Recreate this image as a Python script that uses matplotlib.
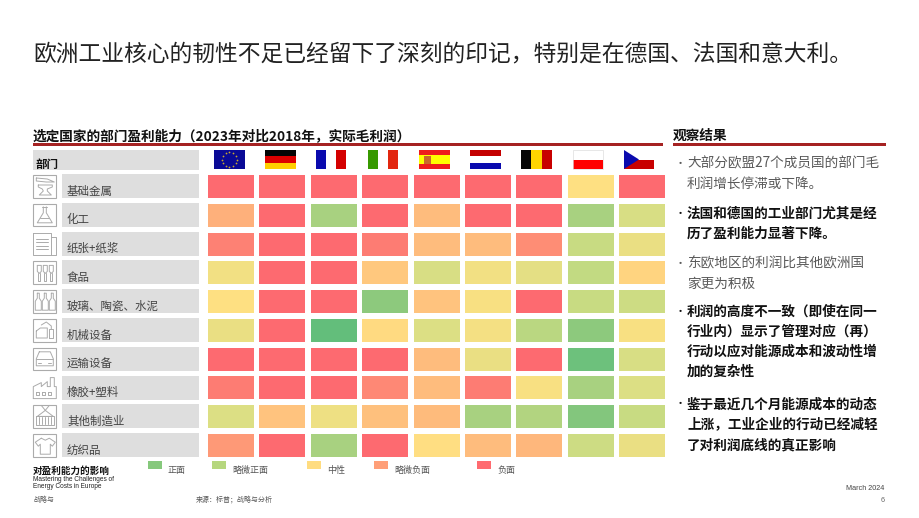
import numpy as np
import matplotlib
matplotlib.use("Agg")
import matplotlib.pyplot as plt
from matplotlib.colors import LinearSegmentedColormap, Normalize
from matplotlib.patches import Rectangle, Polygon

plt.rcParams['font.family'] = ['Noto Sans CJK SC', 'DejaVu Sans']

# Full-width punctuation used in the Chinese copy
COMMA, LP, RP, COLON, SEMI = "\uFF0C", "\uFF08", "\uFF09", "\uFF1A", "\uFF1B"

# Heatmap content
countries = ["EU", "DE", "FR", "IT", "ES", "NL", "BE", "PL", "CZ"]
sectors = ["基础金属", "化工", "纸张+纸浆", "食品", "玻璃、陶瓷、水泥",
           "机械设备", "运输设备", "橡胶+塑料", "其他制造业", "纺织品"]
basic_metals = [-1, -1, -1, -1, -1, -1, -1, 0, -1]
chemicals = [-.4, -1, .65, -1, -.3, -1, -1, .65, .3]
paper_pulp = [-.8, -1, -1, -.85, -.3, -.3, -.7, .45, .15]
food = [.1, -1, -1, -.2, .3, .1, .2, .5, -.1]
glass_ceramics = [0, -1, -1, .8, -.25, .05, -1, .45, .4]
machinery = [.15, -1, 1, -.05, .25, .08, .55, .8, .05]
transport = [-1, -1, -1, -1, -.3, .15, -1, .95, .3]
rubber_plastics = [-.85, -1, -1, -.75, -.3, -.85, .05, .65, .25]
other_mfg = [.25, -.25, .12, -.27, -.32, .65, .6, .85, .45]
textiles = [-.6, -1, .65, -1, -.02, -.3, -.35, .4, .15]
scores = np.array([basic_metals, chemicals, paper_pulp, food, glass_ceramics,
                   machinery, transport, rubber_plastics, other_mfg, textiles])

legend_labels = ["正面", "略微正面", "中性", "略微负面", "负面"]
legend_colors = ["#86C87C", "#B6D77E", "#FFDC80", "#FF9F78", "#FF6B70"]

observations = [
    (["大部分欧盟27个成员国的部门毛", "利润增长停滞或下降。"], False),
    (["法国和德国的工业部门尤其是经", "历了盈利能力显著下降。"], True),
    (["东欧地区的利润比其他欧洲国", "家更为积极"], False),
    (["利润的高度不一致" + LP + "即使在同一", "行业内" + RP + "显示了管理对应" + LP + "再" + RP,
      "行动以应对能源成本和波动性增", "加的复杂性"], True),
    (["鉴于最近几个月能源成本的动态", "上涨" + COMMA + "工业企业的行动已经减轻", "了对利润底线的真正影响"], True),
]
observation_rows = [[163.5, 183.5], [213.5, 233.5], [263.5, 283.5],
                    [311.5, 331.5, 351.5, 371.5], [404.5, 424.5, 445]]

W, H = 920, 518
fig = plt.figure(figsize=(W / 100, H / 100), dpi=100, facecolor="white")

# Page layer in pixel units for text, rules, bands, flags and icons
page = fig.add_axes([0, 0, 1, 1])
page.set_xlim(0, W)
page.set_ylim(H, 0)
page.axis("off")

RED_RULE = "#A52222"
GREY_BAND = "#DEDEDE"
ICON = "#ABABAB"

page.text(33.5, 53.5, "欧洲工业核心的韧性不足已经留下了深刻的印记" + COMMA + "特别是在德国、法国和意大利。",
          fontsize=16.4, color="#222222", va="center", ha="left")
page.text(33, 136, "选定国家的部门盈利能力" + LP + "2023年对比2018年" + COMMA + "实际毛利润" + RP,
          fontsize=9.85, fontweight="bold", color="#111111", va="center")
page.text(673, 136, "观察结果", fontsize=9.85, fontweight="bold", color="#111111", va="center")
page.add_patch(Rectangle((33, 143), 630.5, 2.6, fc=RED_RULE, ec="none"))
page.add_patch(Rectangle((672.7, 143), 213.3, 2.6, fc=RED_RULE, ec="none"))

page.add_patch(Rectangle((33, 149.5), 166, 20, fc=GREY_BAND, ec="none"))
page.text(36, 164, "部门", fontsize=8.3, fontweight="bold", color="#111111", va="center")

ROW_STEP = 28.8


def poly(x0, y0, pts, closed=False):
    """Draw a thin icon outline from points given in a 23 px icon box."""
    xy = [(x0 + a, y0 + b) for a, b in pts]
    if closed:
        xy.append(xy[0])
    xs, ys = zip(*xy)
    page.plot(xs, ys, color=ICON, lw=0.7, solid_capstyle="round")


def icon_anvil(x, y):
    poly(x, y, [(3, 3), (14, 4), (21, 7), (13, 7), (3, 6)], True)
    poly(x, y, [(5, 10), (19, 10), (19, 12), (14, 14), (14, 16), (18, 20), (6, 20), (10, 16), (9, 14), (5, 12)], True)


def icon_flask(x, y):
    poly(x, y, [(9, 3), (14, 3)])
    poly(x, y, [(10, 3), (10, 9), (4, 19), (19, 19), (13, 9), (13, 3)])
    poly(x, y, [(7, 14), (16, 14)])


def icon_paper(x, y):
    poly(x, y, [(0, 0), (18, 0), (18, 22), (0, 22)], True)
    poly(x, y, [(18, 4), (23, 4), (23, 22), (18, 22)])
    for k in (6, 9.5, 13, 16.5):
        poly(x, y, [(3, k), (15, k)])


def icon_cutlery(x, y):
    for cx in (6, 12, 18):
        poly(x, y, [(cx - 2, 4), (cx - 2, 10), (cx, 12), (cx + 2, 10), (cx + 2, 4)], True)
        poly(x, y, [(cx - 1, 12), (cx - 1, 20), (cx + 1, 20), (cx + 1, 12)])


def icon_bottles(x, y):
    for cx in (5, 12, 19):
        poly(x, y, [(cx - 1, 3), (cx + 1, 3), (cx + 1, 8), (cx + 3, 11), (cx + 3, 20),
                    (cx - 3, 20), (cx - 3, 11), (cx - 1, 8)], True)


def icon_machine(x, y):
    poly(x, y, [(3, 12), (7, 9), (14, 9), (14, 19), (3, 19)], True)
    poly(x, y, [(16, 19), (16, 10), (20, 10), (20, 19)], True)
    poly(x, y, [(8, 6), (13, 3), (18, 7), (18, 10)])


def icon_car(x, y):
    poly(x, y, [(6, 4), (17, 4), (20, 11), (20, 18), (3, 18), (3, 11)], True)
    poly(x, y, [(3, 11), (20, 11)])
    poly(x, y, [(5, 15), (8, 15)])
    poly(x, y, [(15, 15), (18, 15)])


def icon_factory(x, y):
    poly(x, y, [(0, 22), (0, 10), (8, 6), (8, 10), (14, 5), (14, 10), (17, 10), (17, 1),
                (21, 1), (21, 10), (23, 10), (23, 22)], True)
    for cx in (3, 9, 15):
        poly(x, y, [(cx, 15), (cx + 3, 15), (cx + 3, 18), (cx, 18)], True)


def icon_container(x, y):
    poly(x, y, [(8, 0), (12, 5), (16, 0)])
    poly(x, y, [(12, 5), (4, 11), (20, 11)], True)
    poly(x, y, [(3, 11), (21, 11), (21, 20), (3, 20)], True)
    for cx in (6, 9, 12, 15, 18):
        poly(x, y, [(cx, 12), (cx, 19)])


def icon_shirt(x, y):
    poly(x, y, [(8, 4), (12, 6), (16, 4), (22, 8), (19, 12), (17, 10), (17, 20),
                (7, 20), (7, 10), (5, 12), (2, 8)], True)


icons = [icon_anvil, icon_flask, icon_paper, icon_cutlery, icon_bottles,
         icon_machine, icon_car, icon_factory, icon_container, icon_shirt]
for i, (name, icon) in enumerate(zip(sectors, icons)):
    y0 = 174 + i * ROW_STEP
    page.add_patch(Rectangle((62, y0), 137, 24, fc=GREY_BAND, ec="none"))
    if i != 2 and i != 7:
        page.add_patch(Rectangle((33.3, y0 + 1), 22.5, 22.5, fc="white", ec=ICON, lw=0.8))
    icon(33.3, y0 + 1)
    page.text(67, y0 + 17, name, fontsize=8.25, color="#444444", va="center")


def flag_stripes(x, colors, vertical=True, w=30.5, y=150, h=19):
    n = len(colors)
    for k, c in enumerate(colors):
        if vertical:
            page.add_patch(Rectangle((x + k * w / n, y), w / n, h, fc=c, ec="none"))
        else:
            page.add_patch(Rectangle((x, y + k * h / n), w, h / n, fc=c, ec="none"))


flag_x = dict(zip(countries, [214.3, 265.3, 316, 367.7, 419.3, 470.2, 521.3, 573, 624]))
flag_stripes(flag_x["EU"], ["#0A0A96"])
angles = np.linspace(0, 2 * np.pi, 12, endpoint=False)
page.scatter(flag_x["EU"] + 15.2 + 7.6 * np.cos(angles), 159.5 + 7.6 * np.sin(angles),
             s=1.6, c="#C9A82C", linewidths=0, zorder=3)
flag_stripes(flag_x["DE"], ["#050505", "#DD0000", "#FFCE00"], vertical=False)
flag_stripes(flag_x["FR"], ["#0A0AAE", "#FFFFFF", "#D40000"])
flag_stripes(flag_x["IT"], ["#379900", "#FFFFFF", "#E2260F"])
flag_stripes(flag_x["ES"], ["#EE1C1C", "#FFFF00", "#FFFF00", "#EE1C1C"], vertical=False)
page.add_patch(Rectangle((flag_x["ES"] + 4.5, 155.5), 7, 8, fc="#C8682C", ec="none"))
flag_stripes(flag_x["NL"], ["#C40000", "#FFFFFF", "#0A0AAE"], vertical=False)
flag_stripes(flag_x["BE"], ["#050505", "#FFD500", "#C80000"])
flag_stripes(flag_x["PL"], ["#FFFFFF", "#FF0000"], vertical=False)
page.add_patch(Rectangle((flag_x["PL"], 150), 30.5, 19, fc="none", ec="#DDDDDD", lw=0.5))
flag_stripes(flag_x["CZ"], ["#FFFFFF", "#C80000"], vertical=False)
page.add_patch(Polygon([(flag_x["CZ"], 150), (flag_x["CZ"] + 15, 159.5), (flag_x["CZ"], 169)],
                       fc="#0A0AAE", ec="none"))

# Heatmap layer, addressed by column and row index
cell_w, cell_h = 46 / 51.4, 23 / ROW_STEP
heat = fig.add_axes([208 / W, 1 - 457 / H, (665.3 - 208) / W, (457 - 175) / H])
heat.set_xlim(0, len(countries) - 1 + cell_w)
heat.set_ylim(len(sectors) - 1 + cell_h, 0)
heat.axis("off")
cmap = LinearSegmentedColormap.from_list(
    "margin",
    [(0, "#FD6A70"), (0.5, "#FFE082"), (0.625, "#DDDF84"),
     (0.75, "#C3DA82"), (0.875, "#98CC7E"), (1, "#63BE7B")])
norm = Normalize(-1, 1)
for r in range(scores.shape[0]):
    for c in range(scores.shape[1]):
        heat.add_patch(Rectangle((c, r), cell_w, cell_h, fc=cmap(norm(scores[r, c])), ec="none"))

# Legend
swatch_x = [148, 212, 307.5, 374, 477]
for x, label, color in zip(swatch_x, legend_labels, legend_colors):
    page.add_patch(Rectangle((x, 461), 14, 8, fc=color, ec="none"))
    page.text(x + 20, 470.5, label, fontsize=6.5, color="#555555", va="center")

page.text(33, 470.5, "对盈利能力的影响", fontsize=6.9, fontweight="bold", color="#111111", va="center")
page.text(33, 479.5, "Mastering the Challenges of", fontsize=4.7, family="Liberation Sans",
          color="#222222", va="center")
page.text(33, 486.5, "Energy Costs in Europe", fontsize=4.7, family="Liberation Sans",
          color="#222222", va="center")
page.text(33, 499.5, "战略与", fontsize=5, color="#555555", va="center")
page.text(196, 499.5, "来源" + COLON + "标普" + SEMI + "战略与分析", fontsize=5, color="#555555", va="center")
page.text(884.5, 488, "March 2024", fontsize=5.2, family="Liberation Sans",
          color="#444444", va="center", ha="right")
page.text(885, 500, "6", fontsize=5.2, family="Liberation Sans", color="#666666", va="center", ha="right")

# Observations column
for (lines, bold), rows in zip(observations, observation_rows):
    color = "#111111" if bold else "#5A5A5A"
    page.text(680, rows[0], "·", fontsize=8, color=color, va="center", ha="center")
    for line, y in zip(lines, rows):
        page.text(687, y, line, fontsize=9.8, color=color, va="center",
                  fontweight="bold" if bold else "normal")

fig.savefig("out.png", dpi=100, facecolor="white")
